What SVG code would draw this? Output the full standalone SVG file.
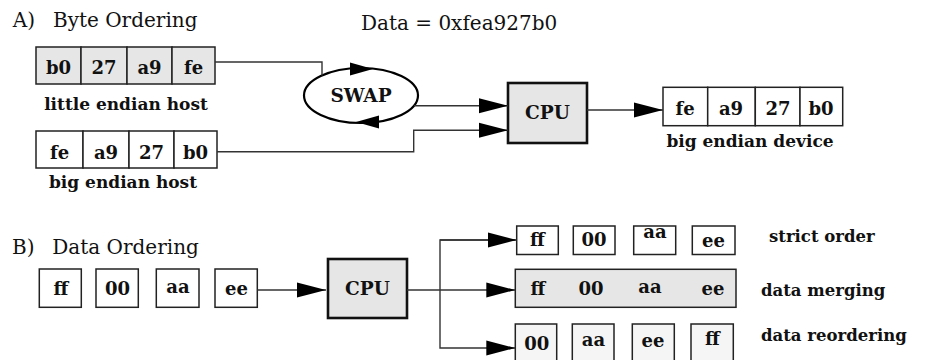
<svg xmlns="http://www.w3.org/2000/svg" width="930" height="360" viewBox="0 0 930 360">
<style>
text{font-family:"DejaVu Serif","Liberation Serif",serif;fill:#111}
.t{font-size:20px}
.b{font-size:16.5px;font-weight:bold}
.c{font-size:18px;font-weight:bold;text-anchor:middle}
.lab{font-size:17px;font-weight:bold;text-anchor:middle}
.cpu{font-size:18.5px;font-weight:bold;text-anchor:middle}
.cell{fill:#fff;stroke:#222;stroke-width:1.5}
.g{fill:#e6e6e6}
.lg{fill:#f5f5f5}
.box{fill:#e6e6e6;stroke:#111;stroke-width:2.6}
.ln{fill:none;stroke:#333;stroke-width:1.4}
.ah{fill:#000}
</style>
<defs>
<marker id="arr" markerUnits="userSpaceOnUse" markerWidth="30" markerHeight="16" refX="29" refY="8" orient="auto">
<path d="M0,0.5 L29,8 L0,15.5 z" fill="#000"/>
</marker>
</defs>

<text class="t" x="12.7" y="27">A)</text>
<text class="t" x="53" y="27">Byte Ordering</text>
<text class="t" x="361" y="30">Data = 0xfea927b0</text>
<text class="t" x="12" y="254">B)</text>
<text class="t" x="52.3" y="254">Data Ordering</text>

<g id="little-endian-host">
<rect class="cell g" x="36" y="47" width="45" height="37"/>
<rect class="cell g" x="81" y="47" width="46" height="37"/>
<rect class="cell g" x="127" y="47" width="45" height="37"/>
<rect class="cell g" x="172" y="47" width="43" height="37"/>
<text class="c" x="58.5" y="74">b0</text>
<text class="c" x="104" y="74">27</text>
<text class="c" x="149.5" y="74">a9</text>
<text class="c" x="193.5" y="74">fe</text>
<text class="lab" x="126" y="110">little endian host</text>
</g>

<g id="big-endian-host">
<rect class="cell" x="36" y="131" width="47" height="37"/>
<rect class="cell" x="83" y="131" width="46" height="37"/>
<rect class="cell" x="129" y="131" width="45" height="37"/>
<rect class="cell" x="174" y="131" width="43" height="37"/>
<text class="c" x="59.5" y="159">fe</text>
<text class="c" x="106" y="159">a9</text>
<text class="c" x="151.5" y="159">27</text>
<text class="c" x="195.5" y="159">b0</text>
<text class="lab" x="123" y="188">big endian host</text>
</g>

<g id="swap">
<ellipse cx="361" cy="95.5" rx="57" ry="27.5" fill="#fff" stroke="#000" stroke-width="2.2"/>
<polygon class="ah" points="350,62.5 373,69 350,75.5"/>
<polygon class="ah" points="356,122 379,115.5 379,128.5"/>
<text class="cpu" x="361" y="102">SWAP</text>
</g>

<g id="cpu-a">
<rect class="box" x="508" y="83" width="79" height="60"/>
<text class="cpu" x="547.5" y="119">CPU</text>
</g>

<g id="big-endian-device">
<rect class="cell" x="663" y="87.3" width="44.7" height="38.4"/>
<rect class="cell" x="707.7" y="87.3" width="47.6" height="38.4"/>
<rect class="cell" x="755.3" y="87.3" width="44.7" height="38.4"/>
<rect class="cell" x="800" y="87.3" width="42.7" height="38.4"/>
<text class="c" x="685" y="115">fe</text>
<text class="c" x="731" y="115">a9</text>
<text class="c" x="778" y="115">27</text>
<text class="c" x="821" y="115">b0</text>
<text class="lab" x="750" y="147">big endian device</text>
</g>

<g id="input-b">
<rect class="cell" x="39.3" y="269" width="42" height="38.3"/>
<rect class="cell" x="96" y="269" width="42.3" height="38.3"/>
<rect class="cell" x="156.3" y="269" width="42.7" height="38.3"/>
<rect class="cell" x="215" y="269" width="42.3" height="38.3"/>
<text class="c" x="61" y="295">ff</text>
<text class="c" x="117.5" y="295">00</text>
<text class="c" x="178" y="293">aa</text>
<text class="c" x="236.5" y="295">ee</text>
</g>

<g id="cpu-b">
<rect class="box" x="328" y="259" width="79" height="59"/>
<text class="cpu" x="367.5" y="295">CPU</text>
</g>

<g id="strict-order">
<rect class="cell" x="516.7" y="226" width="41.6" height="28.5"/>
<rect class="cell" x="573.3" y="226" width="41.7" height="28.5"/>
<rect class="cell" x="633.7" y="226" width="42" height="28.5"/>
<rect class="cell" x="692.3" y="226" width="42.7" height="28.5"/>
<text class="c" x="537.5" y="246">ff</text>
<text class="c" x="594" y="246">00</text>
<text class="c" x="655" y="238">aa</text>
<text class="c" x="713.5" y="247">ee</text>
<text class="b" x="769" y="242">strict order</text>
</g>

<g id="data-merging">
<rect class="cell g" x="515.3" y="269.3" width="220.7" height="38"/>
<text class="c" x="538" y="295">ff</text>
<text class="c" x="591" y="295">00</text>
<text class="c" x="650" y="292.5">aa</text>
<text class="c" x="713" y="295">ee</text>
<text class="b" x="761" y="296">data merging</text>
</g>

<g id="data-reordering">
<rect class="cell lg" x="515.3" y="324" width="41.4" height="45"/>
<rect class="cell lg" x="572.3" y="324" width="41.7" height="45"/>
<rect class="cell lg" x="632.3" y="324" width="42" height="45"/>
<rect class="cell lg" x="691" y="324" width="42.3" height="45"/>
<text class="c" x="536.7" y="350">00</text>
<text class="c" x="593.5" y="346">aa</text>
<text class="c" x="653" y="347">ee</text>
<text class="c" x="712.5" y="345">ff</text>
<text class="b" x="761" y="341">data reordering</text>
</g>

<g id="connectors">
<polyline class="ln" points="215,62 322,62 322,75.5"/>
<line class="ln" x1="414" y1="105.7" x2="508" y2="105.7" marker-end="url(#arr)"/>
<polyline class="ln" points="217,151.7 413.7,151.7 413.7,130.3 508,130.3" marker-end="url(#arr)"/>
<line class="ln" x1="587" y1="110" x2="663" y2="110" marker-end="url(#arr)"/>
<line class="ln" x1="257.3" y1="290" x2="326" y2="290" marker-end="url(#arr)"/>
<line class="ln" x1="407" y1="290" x2="515.3" y2="290" marker-end="url(#arr)"/>
<polyline class="ln" points="515.3,240 440,240 440,348 515.3,348" marker-end="url(#arr)"/>
<line class="ln" x1="440" y1="240" x2="516.7" y2="240" marker-end="url(#arr)"/>
</g>
</svg>
